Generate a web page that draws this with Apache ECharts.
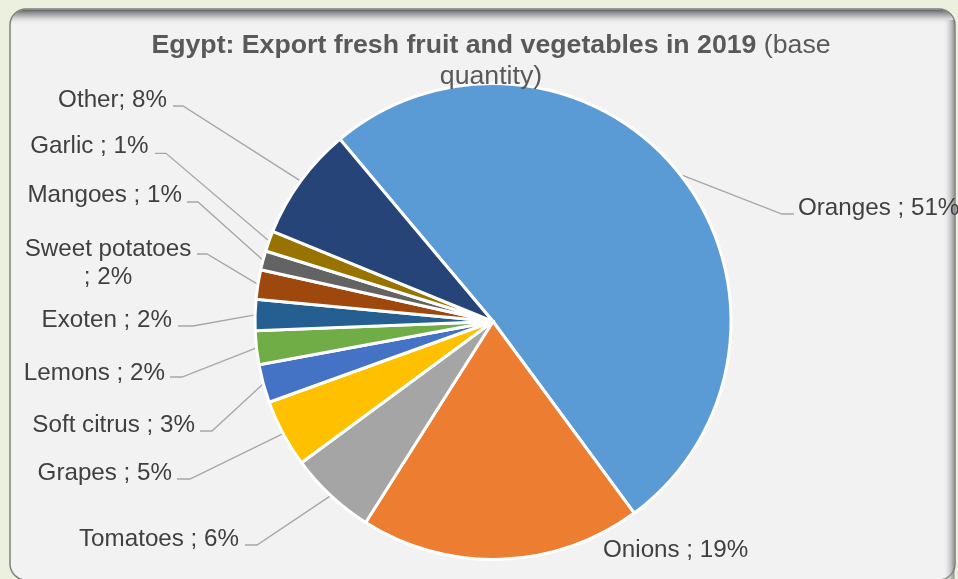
<!DOCTYPE html>
<html><head><meta charset="utf-8">
<script src="https://cdn.jsdelivr.net/npm/echarts@6/dist/echarts.min.js"></script>
<style>html,body{margin:0;padding:0;background:#EBF1DE;} #c{width:958px;height:579px;}</style>
</head><body><div id="c"></div>
<script>
const categories = ['Oranges','Onions','Tomatoes','Grapes','Soft citrus','Lemons','Exoten','Sweet potatoes','Mangoes','Garlic','Other'];
const shares = [51.0, 19.1, 5.9, 4.6, 2.6, 2.3, 2.1, 2.0, 1.3, 1.4, 7.7];
const separators = [' ; ',' ; ',' ; ',' ; ',' ; ',' ; ',' ; ','\n; ',' ; ',' ; ','; '];
const colors = ['#5B9BD5','#ED7D31','#A5A5A5','#FFC000','#4472C4','#70AD47','#255E91','#9E480E','#636363','#997300','#264478'];
// label placement (layout only): [textX, textY, align, lineEndX, lineEndY, kneeX]
const labelPos = [
  [798, 206, 'left', 794, 214, 782],
  [603, 548, 'left', null, null, null],
  [239, 537, 'right', 245, 545, 257],
  [172, 471, 'right', 177, 479, 190],
  [195, 422.5, 'right', 200, 431, 212],
  [165, 371, 'right', 170, 377, 182],
  [172, 318, 'right', 178, 326, 193],
  [108, 261, 'center', 197, 254, 207],
  [182, 193.3, 'right', 187, 202, 198],
  [148.5, 144.2, 'right', 155, 153.3, 166],
  [167, 97.5, 'right', 173, 106, 183]
];
const FONT = '"Liberation Sans", Arial, sans-serif';
const CX = 493, CY = 321.5, R = 238, START = 130, LABEL_DY = 2.5;

const chart = echarts.init(document.getElementById('c'), null, {renderer: 'canvas'});
const total = shares.reduce((a, b) => a + b, 0);
function edgePoint(i) {
  let before = 0;
  for (let k = 0; k < i; k++) before += shares[k];
  const mid = (START - (before + shares[i] / 2) / total * 360) * Math.PI / 180;
  return [CX + R * Math.cos(mid), CY - R * Math.sin(mid)];
}

const option = {
  backgroundColor: '#EBF1DE',
  animation: false,
  title: {
    text: '{b|Egypt: Export fresh fruit and vegetables in 2019}{n| (base}\n{n|quantity)}',
    left: 491, top: 30, textAlign: 'center', padding: 0,
    textStyle: {
      rich: {
        b: {fontSize: 26.7, fontWeight: 'bold', color: '#595959', fontFamily: FONT, lineHeight: 31},
        n: {fontSize: 26.7, fontWeight: 'normal', color: '#595959', fontFamily: FONT, lineHeight: 31}
      }
    }
  },
  graphic: [
    {type: 'rect', z: -10, shape: {x: 10, y: 9, width: 945, height: 571, r: 16},
      style: {fill: '#F2F2F2', stroke: '#7F7F7F', lineWidth: 1.5}},
    {type: 'rect', z: -9, shape: {x: 10.8, y: 9.8, width: 943.4, height: 15, r: [15, 15, 0, 0]},
      style: {fill: new echarts.graphic.LinearGradient(0, 0, 0, 1, [
        {offset: 0, color: 'rgba(90,90,90,0.95)'}, {offset: 0.4, color: 'rgba(140,140,140,0.6)'}, {offset: 1, color: 'rgba(242,242,242,0)'}])}},
    {type: 'rect', z: -9, shape: {x: 943, y: 20, width: 11.5, height: 560},
      style: {fill: new echarts.graphic.LinearGradient(0, 0, 1, 0, [
        {offset: 0, color: 'rgba(242,242,242,0)'}, {offset: 1, color: 'rgba(110,110,110,0.75)'}])}}
  ],
  series: [{
    type: 'pie',
    center: [CX, CY],
    radius: R,
    startAngle: START,
    clockwise: true,
    avoidLabelOverlap: false,
    itemStyle: {borderColor: '#FFFFFF', borderWidth: 3},
    label: {
      show: true, position: 'outside', overflow: 'none',
      color: '#404040', fontSize: 24.2, fontFamily: FONT, lineHeight: 28.6,
      formatter: p => p.name + separators[p.dataIndex] + Math.round(p.percent) + '%'
    },
    labelLine: {show: true, smooth: false, lineStyle: {color: '#A6A6A6', width: 1.3}},
    emphasis: {disabled: true},
    labelLayout: function (params) {
      const i = params.dataIndex;
      const lp = labelPos[i];
      const out = {x: lp[0], y: lp[1] + LABEL_DY, align: lp[2], verticalAlign: 'middle'};
      if (lp[3] != null) {
        const start = (params.labelLinePoints && params.labelLinePoints[0]) ? params.labelLinePoints[0] : edgePoint(i);
        out.labelLinePoints = [start, [lp[5], lp[4]], [lp[3], lp[4]]];
      }
      return out;
    },
    data: categories.map((c, i) => ({
      name: c, value: shares[i], itemStyle: {color: colors[i]},
      labelLine: {show: i !== 1}
    }))
  }]
};
chart.setOption(option);
</script>
</body></html>
